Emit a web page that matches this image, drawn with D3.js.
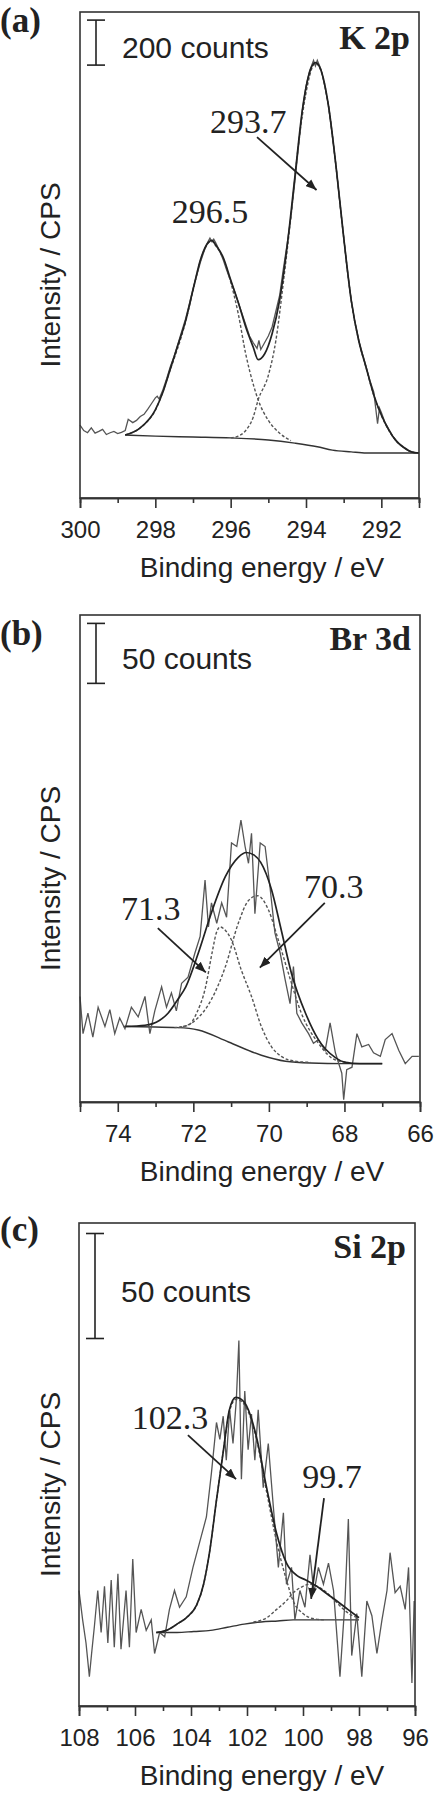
<!DOCTYPE html>
<html lang="en">
<head>
  <meta charset="utf-8">
  <script src="https://d3js.org/d3.v7.min.js"></script>
  <style>
    body { margin: 0; background: #fff; }
    svg { display: block; }
    .frame { fill: none; stroke: #333; stroke-width: 1.6; }
    .axis path, .axis line { stroke: #333; stroke-width: 1.6; }
    .axis text { font-family: "Liberation Sans", Arial, sans-serif; font-size: 24px; fill: #222; }
    .title { font-family: "Liberation Sans", Arial, sans-serif; font-size: 28px; fill: #222; }
    .counts { font-family: "Liberation Sans", Arial, sans-serif; font-size: 30px; fill: #222; }
    .serif { font-family: "Liberation Serif", "Times New Roman", serif; fill: #222; }
    .data { fill: none; stroke: #555; stroke-width: 1.3; }
    .fit { fill: none; stroke: #222; stroke-width: 1.7; }
    .comp { fill: none; stroke: #555; stroke-width: 1.4; stroke-dasharray: 3,2; }
    .bg { fill: none; stroke: #333; stroke-width: 1.4; }
  </style>
</head>
<body>
<svg id="chart" width="437" height="1800"></svg>
<script>
// ---- (a) K 2p ----
const ticksA = [300, 298, 296, 294, 292];
const minorA = [299, 297, 295, 293, 291];
const dataA = [[300.0,324],[299.9,300],[299.8,290],[299.7,312],[299.6,288],[299.5,296],[299.4,305],[299.3,282],[299.2,290],[299.1,296],[299.0,286],[298.9,292],[298.8,300],[298.72,350],[298.6,335],[298.5,345],[298.4,362],[298.3,372],[298.2,395],[298.1,420],[298.0,445],[297.95,452],[297.9,440],[297.8,480],[297.7,530],[297.6,585],[297.5,630],[297.4,685],[297.3,740],[297.2,795],[297.1,860],[297.0,930],[296.9,990],[296.8,1050],[296.7,1100],[296.6,1140],[296.55,1155],[296.5,1140],[296.45,1150],[296.4,1135],[296.3,1100],[296.2,1060],[296.1,1010],[296.0,965],[295.9,920],[295.8,870],[295.7,820],[295.6,770],[295.5,720],[295.4,690],[295.3,665],[295.25,700],[295.2,660],[295.1,690],[295.0,720],[294.9,760],[294.8,830],[294.7,900],[294.6,1020],[294.5,1130],[294.4,1250],[294.3,1400],[294.2,1560],[294.1,1720],[294.0,1830],[293.9,1900],[293.8,1945],[293.75,1920],[293.7,1945],[293.6,1905],[293.5,1830],[293.4,1740],[293.3,1610],[293.2,1470],[293.1,1310],[293.0,1160],[292.9,1010],[292.8,880],[292.7,780],[292.6,700],[292.5,640],[292.4,580],[292.3,520],[292.2,470],[292.15,400],[292.1,330],[292.05,400],[292.0,380],[291.9,335],[291.8,305],[291.7,275],[291.6,255],[291.5,235],[291.4,222],[291.3,212],[291.2,205],[291.1,202],[291.0,200]];
const fitA = [[298.8,280],[298.4,312],[298.0,392],[297.8,470],[297.6,575],[297.4,680],[297.2,785],[297.0,925],[296.8,1060],[296.6,1135],[296.5,1145],[296.4,1125],[296.2,1070],[296.0,970],[295.8,870],[295.6,760],[295.4,670],[295.27,615],[295.1,640],[294.9,730],[294.7,880],[294.5,1120],[294.3,1420],[294.1,1720],[293.9,1895],[293.75,1935],[293.6,1900],[293.4,1740],[293.2,1470],[293.0,1160],[292.8,880],[292.6,700],[292.4,578],[292.2,458],[292.0,369],[291.8,302],[291.6,253],[291.4,225],[291.2,205],[291.0,200]];
const peakA1 = [[298.8,280],[298.4,312],[298.0,390],[297.6,572],[297.2,782],[297.0,922],[296.8,1057],[296.6,1132],[296.5,1142],[296.4,1122],[296.2,1065],[296.0,960],[295.8,820],[295.6,640],[295.4,505],[295.27,436],[295.0,345],[294.7,288],[294.4,255]];
const peakA2 = [[296.0,267],[295.8,275],[295.6,300],[295.4,360],[295.27,436],[295.0,545],[294.8,700],[294.6,960],[294.4,1250],[294.2,1570],[294.0,1800],[293.8,1925],[293.75,1932],[293.6,1898],[293.4,1738],[293.2,1468],[293.0,1158],[292.8,878],[292.6,698],[292.4,576],[292.2,456],[292.0,367],[291.8,300],[291.6,252],[291.4,224],[291.2,204],[291.0,199]];
const bgA = [[298.8,280],[298.0,275],[297.0,271],[296.0,267],[295.0,258],[294.3,244],[293.7,228],[293.3,213],[292.8,205],[292.4,200],[291.0,200]];
const labelsA = [{text: "293.7", x: 295.53, y: 1622}, {text: "296.5", x: 296.55, y: 1222}];
const arrowsA = [[[295.30, 1604], [293.72, 1369]]];
const barA = [1924, 2124];

// ---- (b) Br 3d ----
const ticksB = [74, 72, 70, 68, 66];
const minorB = [75, 73, 71, 69, 67];
const dataB = [[75.0,88],[74.92,57],[74.79,74],[74.66,54],[74.52,79],[74.34,63],[74.21,77],[74.08,57],[73.95,70],[73.81,61],[73.64,79],[73.46,71],[73.28,88],[73.15,57],[73.02,76],[72.84,96],[72.71,79],[72.58,91],[72.45,76],[72.31,99],[72.14,104],[71.96,124],[71.82,138],[71.69,185],[71.60,146],[71.52,166],[71.38,149],[71.25,166],[71.12,154],[70.99,216],[70.85,213],[70.74,235],[70.63,213],[70.54,199],[70.46,224],[70.37,157],[70.23,216],[70.10,213],[69.97,179],[69.84,141],[69.70,124],[69.57,102],[69.44,82],[69.35,113],[69.26,74],[69.13,66],[68.95,57],[68.82,49],[68.69,52],[68.51,43],[68.38,66],[68.24,41],[68.07,24],[68.02,2],[67.94,27],[67.80,29],[67.67,57],[67.54,46],[67.36,48],[67.23,41],[67.05,38],[66.92,52],[66.74,57],[66.56,43],[66.39,32],[66.21,38],[66.03,38]];
const fitB = [[73.8,63],[73.28,64],[72.9,68],[72.67,74],[72.4,86],[72.2,96],[71.87,124],[71.53,157],[71.15,188],[70.81,204],[70.6,208],[70.4,206],[70.22,200],[69.93,177],[69.67,143],[69.4,107],[69.03,74],[68.69,52],[68.24,37],[67.97,33],[67.6,32],[67.0,32]];
const peakB1 = [[72.5,62],[72.13,64],[71.9,75],[71.69,94],[71.5,125],[71.4,140],[71.29,146],[71.15,143],[70.99,135],[70.73,110],[70.46,88],[70.2,63],[69.93,46],[69.67,38],[69.3,34],[68.9,33]];
const peakB2 = [[72.4,62],[71.95,68],[71.53,85],[71.15,113],[70.81,149],[70.54,168],[70.3,172],[70.01,160],[69.75,135],[69.48,107],[69.14,74],[68.69,49],[68.24,35],[67.9,33]];
const bgB = [[73.85,63],[72.4,62],[71.87,60],[71.07,50],[70.2,39],[69.56,34],[68.9,32.5],[68.0,32],[67.0,32]];
const labelsB = [{text: "71.3", x: 73.13, y: 152}, {text: "70.3", x: 68.28, y: 170}];
const arrowsB = [[[72.94, 145], [71.67, 108]], [[68.52, 166], [70.24, 112]]];
const barB = [349, 399];

// ---- (c) Si 2p ----
const ticksC = [108, 106, 104, 102, 100, 98, 96];
const minorC = [107, 105, 103, 101, 99, 97];
const dataC = [[108.0,55],[107.87,41],[107.75,30],[107.63,14],[107.55,25],[107.45,38],[107.33,55],[107.21,35],[107.09,57],[106.97,30],[106.85,60],[106.74,28],[106.61,63],[106.5,27],[106.32,55],[106.2,28],[106.08,70],[105.96,35],[105.78,46],[105.6,36],[105.42,41],[105.3,25],[105.12,35],[104.94,33],[104.77,46],[104.59,55],[104.41,47],[104.17,52],[103.93,66],[103.69,78],[103.45,90],[103.27,111],[103.09,135],[102.97,127],[102.85,138],[102.74,117],[102.62,141],[102.5,125],[102.38,146],[102.29,174],[102.2,108],[102.08,150],[101.96,122],[101.84,139],[101.72,117],[101.6,141],[101.42,104],[101.24,125],[101.06,95],[100.88,66],[100.7,92],[100.59,58],[100.41,66],[100.29,41],[100.11,55],[99.93,47],[99.75,72],[99.61,54],[99.45,66],[99.27,58],[99.09,68],[98.91,55],[98.68,14],[98.5,50],[98.38,89],[98.26,24],[98.08,44],[97.9,14],[97.72,50],[97.54,43],[97.36,25],[97.18,41],[97.0,55],[96.89,73],[96.71,54],[96.53,57],[96.35,46],[96.23,66],[96.11,11],[96.03,50]];
const fitC = [[105.24,35],[104.88,36],[104.5,39],[104.17,42],[103.8,48],[103.55,58],[103.34,73],[103.09,98],[102.84,122],[102.63,141],[102.4,147],[102.2,146],[102.02,143],[101.66,128],[101.3,104],[100.94,82],[100.59,68],[100.2,62],[99.9,60],[99.51,57],[99.1,53],[98.79,50],[98.4,46],[98.0,42]];
const peakC1 = [[105.24,35],[104.88,36],[104.5,39],[104.17,42],[103.8,48],[103.55,58],[103.34,73],[103.09,98],[102.84,122],[102.63,140],[102.4,146],[102.2,145],[102.02,142],[101.66,127],[101.3,102],[100.94,78],[100.59,60],[100.35,50],[100.0,44],[99.6,41.5],[99.2,41]];
const peakC2 = [[101.77,40],[101.3,42],[100.94,46],[100.6,50],[100.34,54],[100.0,57],[99.76,58],[99.5,57],[99.15,54],[98.85,50],[98.55,46],[98.3,43.5],[98.02,42]];
const bgC = [[105.24,35],[104.5,35],[103.9,35.5],[103.3,36],[102.7,37.5],[102.1,39],[101.5,40],[100.9,40.5],[100.35,41],[99.0,41],[98.0,41]];
const labelsC = [{text: "102.3", x: 104.75, y: 132}, {text: "99.7", x: 98.96, y: 104}];
const arrowsC = [[[104.11, 129], [102.39, 108]], [[99.25, 99], [99.71, 51]]];
const barC = [175, 225];

// layout of the three stacked panels
const panels = [
  {tag: "(a)", name: "K 2p", counts: "200 counts", xDom: [300, 291], yMax: 2160,
   left: 80, right: 419, top: 12, bottom: 498, tagY: 32, nameY: 49, countsY: 58,
   ticks: ticksA, minor: minorA, data: dataA, fit: fitA, peaks: [peakA1, peakA2], bg: bgA,
   labels: labelsA, arrows: arrowsA, bar: barA},
  {tag: "(b)", name: "Br 3d", counts: "50 counts", xDom: [75, 66], yMax: 406,
   left: 80, right: 420, top: 615, bottom: 1102, tagY: 645, nameY: 650, countsY: 669,
   ticks: ticksB, minor: minorB, data: dataB, fit: fitB, peaks: [peakB1, peakB2], bg: bgB,
   labels: labelsB, arrows: arrowsB, bar: barB},
  {tag: "(c)", name: "Si 2p", counts: "50 counts", xDom: [108, 96], yMax: 230,
   left: 79, right: 415, top: 1223, bottom: 1706, tagY: 1241, nameY: 1258, countsY: 1302,
   ticks: ticksC, minor: minorC, data: dataC, fit: fitC, peaks: [peakC1, peakC2], bg: bgC,
   labels: labelsC, arrows: arrowsC, bar: barC}
];

const svg = d3.select("#chart");
svg.append("defs").append("marker")
   .attr("id", "head")
   .attr("markerUnits", "userSpaceOnUse")
   .attr("viewBox", "0 0 10 8")
   .attr("refX", 10).attr("refY", 4)
   .attr("markerWidth", 11).attr("markerHeight", 9)
   .attr("orient", "auto")
   .append("path").attr("d", "M0,0 L10,4 L0,8 Z").attr("fill", "#222");

panels.forEach(p => {
  const x = d3.scaleLinear().domain(p.xDom).range([p.left, p.right]);
  const y = d3.scaleLinear().domain([0, p.yMax]).range([p.bottom, p.top]);
  const g = svg.append("g");

  const smooth = d3.line().x(d => x(d[0])).y(d => y(d[1])).curve(d3.curveMonotoneX);
  const raw = d3.line().x(d => x(d[0])).y(d => y(d[1]));

  g.append("path").attr("class", "bg").attr("d", smooth(p.bg));
  p.peaks.forEach(pk => g.append("path").attr("class", "comp").attr("d", smooth(pk)));
  g.append("path").attr("class", "data").attr("d", raw(p.data));
  g.append("path").attr("class", "fit").attr("d", smooth(p.fit));

  // frame
  g.append("rect").attr("class", "frame")
   .attr("x", p.left).attr("y", p.top)
   .attr("width", p.right - p.left).attr("height", p.bottom - p.top);

  // bottom axis: labelled major ticks and short minor ticks
  g.append("g").attr("class", "axis")
   .attr("transform", `translate(0,${p.bottom})`)
   .call(d3.axisBottom(x).tickValues(p.ticks).tickSize(10).tickPadding(13).tickFormat(d3.format("d")));
  g.append("g").attr("class", "axis")
   .attr("transform", `translate(0,${p.bottom})`)
   .call(d3.axisBottom(x).tickValues(p.minor).tickSize(5).tickFormat(""));

  g.append("text").attr("class", "title")
   .attr("x", 262).attr("y", p.bottom + 79)
   .attr("text-anchor", "middle")
   .text("Binding energy / eV");

  g.append("text").attr("class", "title")
   .attr("transform", `translate(60,${(p.top + p.bottom) / 2 + 20}) rotate(-90)`)
   .attr("text-anchor", "middle")
   .text("Intensity / CPS");

  // panel tag and element label
  g.append("text").attr("class", "serif")
   .attr("x", 0).attr("y", p.tagY)
   .style("font-size", "35px").style("font-weight", "bold")
   .text(p.tag);
  g.append("text").attr("class", "serif")
   .attr("x", p.right - 9).attr("y", p.nameY)
   .attr("text-anchor", "end")
   .style("font-size", "34px").style("font-weight", "bold")
   .text(p.name);

  // scale bar
  const bx = p.left + 16;
  g.append("line").attr("x1", bx).attr("x2", bx)
   .attr("y1", y(p.bar[0])).attr("y2", y(p.bar[1]))
   .attr("stroke", "#222").attr("stroke-width", 1.6);
  p.bar.forEach(v => g.append("line")
   .attr("x1", bx - 9).attr("x2", bx + 9)
   .attr("y1", y(v)).attr("y2", y(v))
   .attr("stroke", "#222").attr("stroke-width", 1.6));
  g.append("text").attr("class", "counts")
   .attr("x", p.left + 42).attr("y", p.countsY)
   .text(p.counts);

  // peak labels and arrows
  p.labels.forEach(l => g.append("text").attr("class", "serif")
   .attr("x", x(l.x)).attr("y", y(l.y))
   .attr("text-anchor", "middle")
   .style("font-size", "34px")
   .text(l.text));
  p.arrows.forEach(a => g.append("line")
   .attr("x1", x(a[0][0])).attr("y1", y(a[0][1]))
   .attr("x2", x(a[1][0])).attr("y2", y(a[1][1]))
   .attr("stroke", "#222").attr("stroke-width", 1.8)
   .attr("marker-end", "url(#head)"));
});
</script>
</body>
</html>
